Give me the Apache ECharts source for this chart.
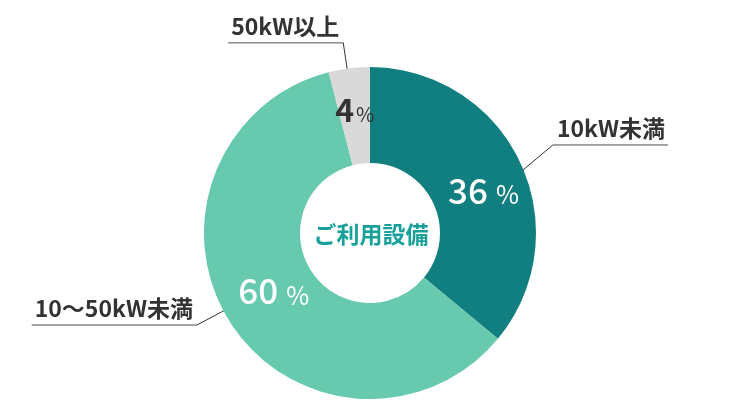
<!DOCTYPE html>
<html>
<head>
<meta charset="utf-8">
<script src="https://cdn.jsdelivr.net/npm/echarts@6/dist/echarts.min.js"></script>
<style>
html, body { margin: 0; padding: 0; background: #fff; }
#chart { width: 741px; height: 408px; }
</style>
</head>
<body>
<div id="chart"></div>
<script>
// 設備区分と割合
var categories = ['10kW未満', '10～50kW未満', '50kW以上'];
var shares = [36, 60, 4];
var centerTitle = 'ご利用設備';

var FONT = '"Noto Sans CJK JP", "Noto Sans", sans-serif';
var sliceColors = ['#117f80', '#67c9ae', '#d9d9d9'];
var CX = 370, CY = 233;
// 引き出し線の長さ・角度の微調整(度)・%ラベルの微調整
var lineLengths = [46, 39, 35];
var lineTurn = [[-3.8, 0.5], [-4.4, -4.4], [0.7, 0.8]];
var pctShift = [[4, 9], [6, -7], [0, -3]];

var pieData = [];
var nameData = [];
for (var i = 0; i < categories.length; i++) {
	pieData.push({ name: categories[i], value: shares[i] });
	nameData.push({ name: categories[i], value: shares[i], labelLine: { length: lineLengths[i] } });
}

// 中心まわりに点を回す
function turnPoint(p, deg) {
	var dx = p[0] - CX, dy = CY - p[1];
	var r = Math.sqrt(dx * dx + dy * dy);
	var a = Math.atan2(dy, dx) + deg * Math.PI / 180;
	return [CX + r * Math.cos(a), CY - r * Math.sin(a)];
}

var myChart = echarts.init(document.getElementById('chart'));
var option = {
	animation: false,
	color: sliceColors,
	graphic: [{
		type: 'text',
		x: 371,
		y: 234,
		style: {
			text: centerTitle,
			fill: '#17a09a',
			font: 'bold 23px ' + FONT,
			textAlign: 'center',
			textVerticalAlign: 'middle'
		},
		z: 10
	}],
	series: [
		// 色付きのドーナツ + 内側の%
		{
			type: 'pie',
			center: [CX, CY],
			radius: [70, 166],
			startAngle: 90,
			silent: true,
			emphasis: { disabled: true },
			data: pieData,
			labelLine: { show: false },
			labelLayout: function(p) {
				var s = pctShift[p.dataIndex];
				return { dx: s[0], dy: s[1] };
			},
			label: {
				show: true,
				position: 'inside',
				fontFamily: FONT,
				formatter: function(p) {
					if (p.value < 10) {
						return '{vd|' + p.value + '}{pd|%}';
					}
					return '{v|' + p.value + '}{p|%}';
				},
				rich: {
					v: { fontFamily: FONT, fontSize: 35, fontWeight: 500, color: '#fff', padding: [0, 8, 0, 0] },
					p: { fontFamily: FONT, fontSize: 25, color: '#fff', padding: [9, 0, 0, 0] },
					vd: { fontFamily: FONT, fontSize: 32, fontWeight: 'bold', color: '#333', padding: [0, 2, 0, 0] },
					pd: { fontFamily: FONT, fontSize: 20, color: '#333', padding: [8, 0, 0, 0] }
				}
			}
		},
		// 外側の名称ラベル（透明）
		{
			type: 'pie',
			center: [CX, CY],
			radius: [0, 157],
			startAngle: 90,
			silent: true,
			emphasis: { disabled: true },
			itemStyle: { color: 'rgba(0,0,0,0)' },
			data: nameData,
			labelLine: {
				show: true,
				length: 40,
				length2: 1,
				lineStyle: { color: '#333', width: 1 }
			},
			labelLayout: function(p) {
				var pts = p.labelLinePoints;
				if (!pts) return {};
				var t = lineTurn[p.dataIndex];
				var p0 = turnPoint(pts[0], t[0]);
				var p1 = turnPoint(pts[1], t[1]);
				var p2 = [p1[0] + pts[2][0] - pts[1][0], p1[1] + pts[2][1] - pts[1][1]];
				return {
					dx: p1[0] - pts[1][0],
					dy: p1[1] - pts[1][1],
					labelLinePoints: [p0, p1, p2]
				};
			},
			label: {
				show: true,
				position: 'outside',
				distanceToLabelLine: 0,
				formatter: '{n|{b}}\n{hr|}',
				padding: [0, 0, 31, 0],
				rich: {
					n: { fontFamily: FONT, fontSize: 23, fontWeight: 'bold', color: '#333', padding: [0, 3, 2, 3], lineHeight: 31 },
					hr: { width: '100%', height: 0, borderColor: '#333', borderWidth: 0.5 }
				}
			}
		}
	]
};
myChart.setOption(option);
</script>
</body>
</html>
